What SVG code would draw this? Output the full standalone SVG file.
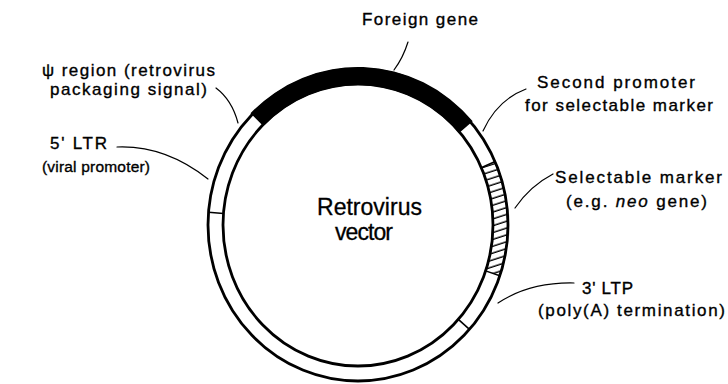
<svg xmlns="http://www.w3.org/2000/svg" width="728" height="384" viewBox="0 0 728 384">
  <style>
    .lbl { font-family: "Liberation Sans", Arial, sans-serif; font-size: 17px; fill: #000; stroke: #000; stroke-width: 0.35; }
    .big { font-family: "Liberation Sans", Arial, sans-serif; font-size: 23px; fill: #000; stroke: #000; stroke-width: 0.3; text-anchor: middle; }
    .mid { text-anchor: middle; }
    .sm { font-size: 15.5px; }
    .ring { fill: none; stroke: #000; stroke-width: 2.8; }
    .tick { stroke: #000; stroke-width: 1.6; fill: none; }
    .lead { fill: none; stroke: #000; stroke-width: 1.2; stroke-linecap: round; }
  </style>
  <defs>
    <pattern id="hatch" patternUnits="userSpaceOnUse" width="20" height="6.5" patternTransform="rotate(-18)">
      <line x1="0" y1="3" x2="20" y2="3" stroke="#000" stroke-width="1.4"/>
    </pattern>
  </defs>
  <rect width="728" height="384" fill="#fff"/>

  <g id="vector-ring">
    <ellipse class="ring" cx="358" cy="225" rx="150" ry="156"/>
    <ellipse class="ring" cx="358" cy="225" rx="135" ry="141"/>
  </g>

  <g id="foreign-gene-segment">
    <path d="M250.5,113.3 A152,158 0 0 1 472.7,121.3 L459.1,133.1 A134,140 0 0 0 263.2,126 Z" fill="#000"/>
  </g>

  <g id="selectable-marker-segment">
    <path d="M495,161.6 A150,156 0 0 1 499.8,275.8 L485.6,270.9 A135,141 0 0 0 481.3,167.7 Z" fill="url(#hatch)" stroke="#000" stroke-width="1.5"/>
  </g>

  <g id="ltr-ticks">
    <line class="tick" x1="208.5" y1="212.2" x2="223.5" y2="213.5"/>
    <line class="tick" x1="469.5" y1="329.4" x2="458.3" y2="319.3"/>
  </g>

  <g id="connectors">
    <path class="lead" d="M408,42 Q403,58 394,70"/>
    <path class="lead" d="M216,88 Q232,100 238,123"/>
    <path class="lead" d="M117,147 Q165,145 208,179"/>
    <path class="lead" d="M526,89 Q497,100 483,131"/>
    <path class="lead" d="M553,174 Q530,186 515,208"/>
    <path class="lead" d="M574,283 Q530,282 498,303"/>
  </g>

  <g id="label-foreign-gene">
    <text class="lbl mid" x="420" y="25" textLength="116" lengthAdjust="spacing">Foreign gene</text>
  </g>
  <g id="label-psi-region">
    <text class="lbl mid" x="128.5" y="76" textLength="173" lengthAdjust="spacing">ψ region (retrovirus</text>
    <text class="lbl mid" x="128.5" y="95" textLength="157" lengthAdjust="spacing">packaging signal)</text>
  </g>
  <g id="label-5ltr">
    <text class="lbl" x="50" y="149" textLength="57" lengthAdjust="spacing">5' LTR</text>
    <text class="lbl sm" x="42" y="172" textLength="108" lengthAdjust="spacing">(viral promoter)</text>
  </g>
  <g id="label-second-promoter">
    <text class="lbl mid" x="616" y="88" textLength="158" lengthAdjust="spacing">Second promoter</text>
    <text class="lbl mid" x="619" y="111" textLength="188" lengthAdjust="spacing">for selectable marker</text>
  </g>
  <g id="label-selectable-marker">
    <text class="lbl mid" x="638.5" y="183" textLength="167" lengthAdjust="spacing">Selectable marker</text>
    <text class="lbl mid" x="636.5" y="207" textLength="141" lengthAdjust="spacing">(e.g. <tspan font-style="italic">neo</tspan> gene)</text>
  </g>
  <g id="label-3ltp">
    <text class="lbl mid" x="607.5" y="294" textLength="51" lengthAdjust="spacing">3' LTP</text>
    <text class="lbl mid" x="631.5" y="316" textLength="187" lengthAdjust="spacing">(poly(A) termination)</text>
  </g>
  <g id="label-center">
    <text class="big" x="369.5" y="215" textLength="105" lengthAdjust="spacing">Retrovirus</text>
    <text class="big" x="364" y="240" textLength="58" lengthAdjust="spacing">vector</text>
  </g>
</svg>
